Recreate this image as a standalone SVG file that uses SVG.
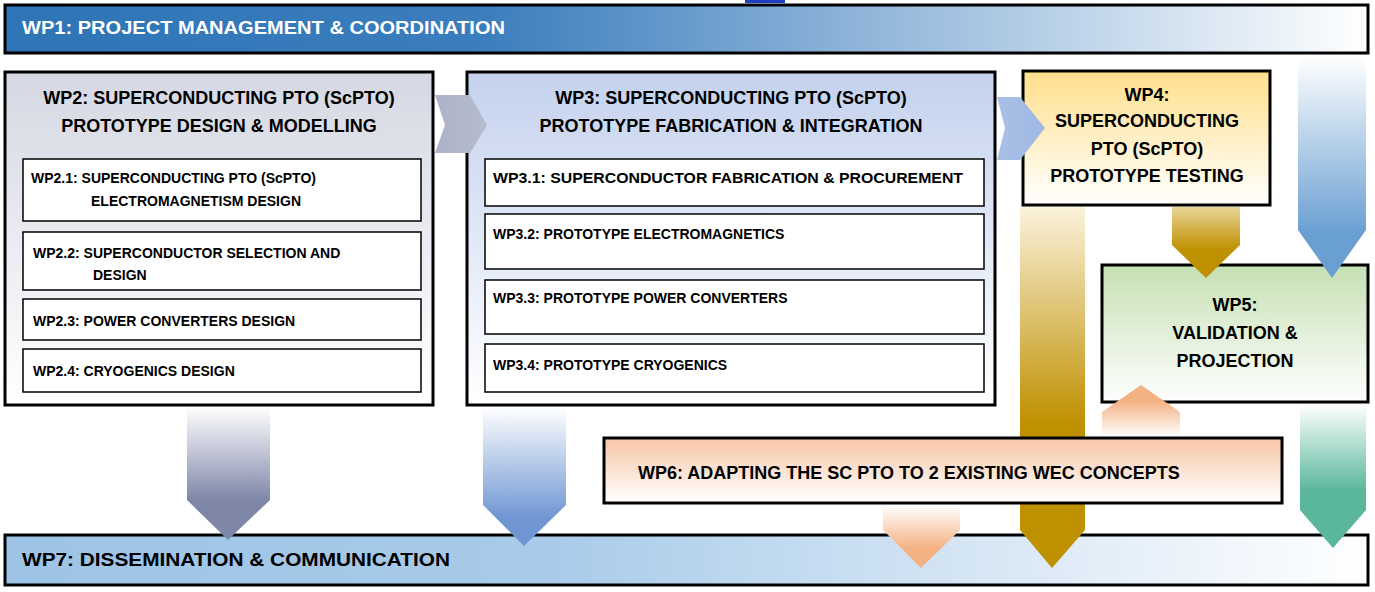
<svg xmlns="http://www.w3.org/2000/svg" width="1375" height="592" viewBox="0 0 1375 592">
<defs>
<linearGradient id="g1" x1="0" x2="1" y1="0" y2="0"><stop offset="0" stop-color="#2e75b6"/><stop offset="0.35" stop-color="#3b7dbd"/><stop offset="1" stop-color="#ffffff"/></linearGradient>
<linearGradient id="g7" x1="0" x2="1" y1="0" y2="0"><stop offset="0" stop-color="#9dc3e6"/><stop offset="0.4" stop-color="#a9cbe9"/><stop offset="1" stop-color="#ffffff"/></linearGradient>
<linearGradient id="g2" x1="0" x2="0" y1="0" y2="1"><stop offset="0" stop-color="#d5d8e3"/><stop offset="1" stop-color="#ffffff"/></linearGradient>
<linearGradient id="g3" x1="0" x2="0" y1="0" y2="1"><stop offset="0" stop-color="#c4d2ee"/><stop offset="1" stop-color="#ffffff"/></linearGradient>
<linearGradient id="g4" x1="0" x2="0" y1="0" y2="1"><stop offset="0" stop-color="#ffdf8a"/><stop offset="1" stop-color="#ffffff"/></linearGradient>
<linearGradient id="g5" x1="0" x2="0" y1="0" y2="1"><stop offset="0" stop-color="#c5e0b3"/><stop offset="1" stop-color="#ffffff"/></linearGradient>
<linearGradient id="g6" x1="0" x2="0" y1="0" y2="1"><stop offset="0" stop-color="#f7c6a6"/><stop offset="1" stop-color="#ffffff"/></linearGradient>
<linearGradient id="aGray" x1="0" x2="0" y1="0" y2="1"><stop offset="0" stop-color="#ffffff"/><stop offset="0.7" stop-color="#7f87a9"/></linearGradient>
<linearGradient id="aBlue" x1="0" x2="0" y1="0" y2="1"><stop offset="0" stop-color="#ffffff"/><stop offset="0.8" stop-color="#6f96d3"/></linearGradient>
<linearGradient id="aBlueR" x1="0" x2="0" y1="0" y2="1"><stop offset="0" stop-color="#ffffff"/><stop offset="0.8" stop-color="#6a9fd2"/></linearGradient>
<linearGradient id="aGold" x1="0" x2="0" y1="0" y2="1"><stop offset="0" stop-color="#fbf2dc"/><stop offset="0.6" stop-color="#bf9000"/></linearGradient>
<linearGradient id="aGold2" x1="0" x2="0" y1="0" y2="1"><stop offset="0" stop-color="#e8d497"/><stop offset="0.6" stop-color="#bf9000"/></linearGradient>
<linearGradient id="aTeal" x1="0" x2="0" y1="0" y2="1"><stop offset="0" stop-color="#ffffff"/><stop offset="0.6" stop-color="#5ab79c"/></linearGradient>
<linearGradient id="aPeachD" x1="0" x2="0" y1="0" y2="1"><stop offset="0" stop-color="#ffffff"/><stop offset="0.7" stop-color="#f4b183"/></linearGradient>
<linearGradient id="aPeachU" x1="0" x2="0" y1="1" y2="0"><stop offset="0" stop-color="#ffffff"/><stop offset="0.7" stop-color="#f4b183"/></linearGradient>
<linearGradient id="chev1" x1="0" x2="1"><stop offset="0" stop-color="#aeb2c8"/><stop offset="1" stop-color="#b4bccf"/></linearGradient>
<linearGradient id="chev2" x1="0" x2="1"><stop offset="0" stop-color="#a9c0e6"/><stop offset="1" stop-color="#9fb9e4"/></linearGradient>
</defs>
<style>
.box{stroke:#000;stroke-width:3}
.sub{fill:#fff;stroke:#000;stroke-width:1.5}
text{font-family:"Liberation Sans",Arial,sans-serif;font-weight:bold;fill:#000}
.t{font-size:18px}
.s{font-size:14px}
</style>
<rect x="745" y="0" width="40" height="3" fill="#1f3fbf"/>
<g id="wp1"><rect class="box" x="5" y="5" width="1363" height="48" fill="url(#g1)"/><text class="t" x="22" y="34" style="fill:#fff" textLength="483" lengthAdjust="spacingAndGlyphs">WP1: PROJECT MANAGEMENT &amp; COORDINATION</text></g>
<g id="wp7"><rect class="box" x="5" y="535" width="1363" height="50" fill="url(#g7)"/><text class="t" x="22" y="566" textLength="428" lengthAdjust="spacingAndGlyphs">WP7: DISSEMINATION &amp; COMMUNICATION</text></g>
<g id="wp2"><rect class="box" x="5" y="72" width="428" height="333" fill="url(#g2)"/>
<text class="t" x="219" y="104" text-anchor="middle">WP2: SUPERCONDUCTING PTO (ScPTO)</text>
<text class="t" x="219" y="132" text-anchor="middle">PROTOTYPE DESIGN &amp; MODELLING</text>
<rect class="sub" x="23" y="159" width="398" height="62"/><text class="s" x="31" y="183">WP2.1: SUPERCONDUCTING PTO (ScPTO)</text><text class="s" x="91" y="206">ELECTROMAGNETISM DESIGN</text>
<rect class="sub" x="23" y="232" width="398" height="58"/><text class="s" x="33" y="258">WP2.2: SUPERCONDUCTOR SELECTION AND</text><text class="s" x="93" y="280">DESIGN</text>
<rect class="sub" x="23" y="299" width="398" height="41"/><text class="s" x="33" y="326">WP2.3: POWER CONVERTERS DESIGN</text>
<rect class="sub" x="23" y="349" width="398" height="43"/><text class="s" x="33" y="376">WP2.4: CRYOGENICS DESIGN</text>
</g>
<g id="wp3"><rect class="box" x="467" y="72" width="528" height="333" fill="url(#g3)"/>
<text class="t" x="731" y="104" text-anchor="middle">WP3: SUPERCONDUCTING PTO (ScPTO)</text>
<text class="t" x="731" y="132" text-anchor="middle">PROTOTYPE FABRICATION &amp; INTEGRATION</text>
<rect class="sub" x="485" y="159" width="499" height="47"/><text class="s" x="493" y="183" textLength="470" lengthAdjust="spacingAndGlyphs">WP3.1: SUPERCONDUCTOR FABRICATION &amp; PROCUREMENT</text>
<rect class="sub" x="485" y="214" width="499" height="55"/><text class="s" x="493" y="239">WP3.2: PROTOTYPE ELECTROMAGNETICS</text>
<rect class="sub" x="485" y="280" width="499" height="54"/><text class="s" x="493" y="303">WP3.3: PROTOTYPE POWER CONVERTERS</text>
<rect class="sub" x="485" y="344" width="499" height="48"/><text class="s" x="493" y="370">WP3.4: PROTOTYPE CRYOGENICS</text>
</g>
<g id="wp4"><rect class="box" x="1023" y="71" width="247" height="134" fill="url(#g4)"/>
<text class="t" x="1147" y="101" text-anchor="middle">WP4:</text>
<text class="t" x="1147" y="127" text-anchor="middle">SUPERCONDUCTING</text>
<text class="t" x="1147" y="155" text-anchor="middle">PTO (ScPTO)</text>
<text class="t" x="1147" y="182" text-anchor="middle">PROTOTYPE TESTING</text>
</g>
<g id="wp5"><rect class="box" x="1102" y="265" width="266" height="137" fill="url(#g5)"/>
<text class="t" x="1235" y="311" text-anchor="middle">WP5:</text>
<text class="t" x="1235" y="339" text-anchor="middle">VALIDATION &amp;</text>
<text class="t" x="1235" y="367" text-anchor="middle">PROJECTION</text>
</g>
<g id="connectors">
<path d="M1298,56 H1366 V230 L1332,278 L1298,230 Z" fill="url(#aBlueR)"/>
<path d="M1020,207 H1085 V530 L1052,568 L1020,530 Z" fill="url(#aGold)"/>
<path d="M1172,207 H1240 V245 L1206,278 L1172,245 Z" fill="url(#aGold2)"/>
<path d="M187,407 H270 V500 L228,540 L187,500 Z" fill="url(#aGray)"/>
<path d="M483,407 H566 V505 L524,546 L483,505 Z" fill="url(#aBlue)"/>
<path d="M1300,404 H1366 V510 L1333,548 L1300,510 Z" fill="url(#aTeal)"/>
<path d="M883,505 H960 V530 L921,568 L883,530 Z" fill="url(#aPeachD)"/>
<path d="M1102,437 H1180 V412 L1141,385 L1102,412 Z" fill="url(#aPeachU)"/>
<path d="M435,95 H470 L487,125 L470,153 H435 L445,125 Z" fill="url(#chev1)"/>
<path d="M997,97 H1020 L1045,128 L1020,160 H997 L1005,128 Z" fill="url(#chev2)"/>
</g>
<g id="wp6"><rect class="box" x="604" y="438" width="678" height="65" fill="url(#g6)"/>
<text class="t" x="638" y="479">WP6: ADAPTING THE SC PTO TO 2 EXISTING WEC CONCEPTS</text>
</g>
</svg>
